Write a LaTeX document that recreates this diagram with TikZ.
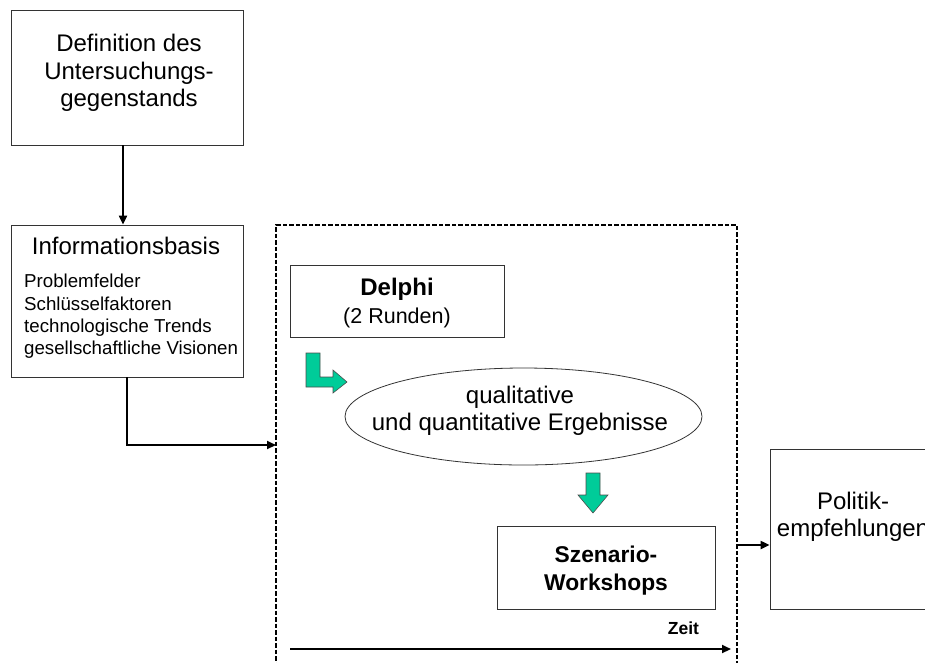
\documentclass[tikz,border=0pt]{standalone}
\usepackage{fontspec}
\setmainfont{Liberation Sans}
\usetikzlibrary{arrows.meta,shapes.geometric}
\definecolor{blockgreen}{RGB}{0,204,153}
\tikzset{
  box/.style={draw=black!80, line width=0.8pt, inner sep=0pt, minimum width=#1},
  box/.default=232pt,
  maintext/.style={font=\fontsize{24}{27.5}\selectfont, align=center, inner sep=0pt},
  listtext/.style={font=\fontsize{18.7}{22.3}\selectfont, align=left, inner sep=0pt, anchor=north west},
  flow/.style={line width=2pt, -{Triangle[length=9pt,width=8pt]}},
  phaseframe/.style={draw, line width=2pt, dash pattern=on 4.5pt off 2pt, inner sep=0pt},
  blockarrow/.style={fill=blockgreen, draw=black!70, line width=0.6pt, line join=miter},
}
\begin{document}
\begin{tikzpicture}[x=1pt, y=-1pt]
\useasboundingbox (0,0) rectangle (925,662);
\clip (0,0) rectangle (925,662);

% process boxes
\node[box, minimum height=135pt] (def) at (127,77.5) {};
\node[maintext] (deftext) at (129,73) {Definition des\\Untersuchungs-\\gegenstands};

\node[box, minimum height=152pt] (info) at (127,301) {};
\node[maintext] (infotitle) at (126,246) {Informationsbasis};
\node[listtext] (infolist) at (24,274) {Problemfelder\\Schlüsselfaktoren\\technologische Trends\\gesellschaftliche Visionen};

% dashed phase frame (runs past the lower edge)
\node[phaseframe, minimum width=461pt, minimum height=480pt] (phase) at (506.5,465) {};

\node[box=214pt, minimum height=72pt] (delphi) at (397,301) {};
\node[maintext] (delphitext) at (397,303) {\textbf{Delphi}\\\fontsize{21.5}{27.5}\selectfont(2 Runden)};

\node[draw=black!80, line width=0.8pt, ellipse, minimum width=357pt, minimum height=97pt, inner sep=0pt] (results) at (523.5,416.5) {};
\node[maintext] (resultstext) at (520,411) {qualitative\\und quantitative Ergebnisse};

\node[box=218pt, minimum height=83pt] (workshop) at (606,567.5) {};
\node[maintext, font=\bfseries\fontsize{22.8}{28}\selectfont] (workshoptext) at (606,571) {Szenario-\\Workshops};

\node[box=166pt, minimum height=160pt] (policy) at (853,529) {};
\node[maintext] (policytext) at (853,517) {Politik-\\empfehlungen};

% green block arrows
\draw[blockarrow] (306,353) -- (320,353) -- (320,377) -- (333,377) -- (333,370)
  -- (347,382) -- (333,393) -- (333,387) -- (306,387) -- cycle;
\draw[blockarrow] (586,473) -- (600,473) -- (600,495) -- (608,495)
  -- (593,513) -- (578,495) -- (586,495) -- cycle;

% connectors
\draw[flow] ([xshift=-4pt]def.south) -- ([xshift=-4pt]info.north);
\coordinate (entry) at (276,445);
\draw[flow] (info.south) |- (entry);
\coordinate (exit) at (737,545);
\draw[flow] (exit) -- (policy.west |- exit);

% time axis
\coordinate (t0) at (290,649);
\coordinate (t1) at (731,649);
\draw[flow] (t0) -- (t1);
\node[font=\bfseries\fontsize{17.5}{20}\selectfont, inner sep=0pt] (time) at (683.5,628) {Zeit};
\end{tikzpicture}
\end{document}
